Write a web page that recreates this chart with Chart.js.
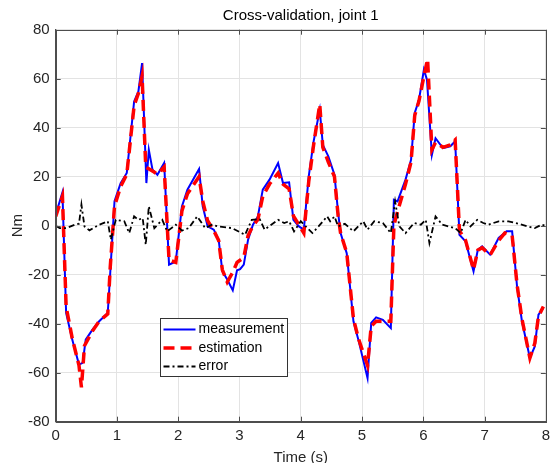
<!DOCTYPE html>
<html>
<head>
<meta charset="utf-8">
<script src="https://cdn.jsdelivr.net/npm/chart.js@4"></script>
<style>
  body { margin: 0; background: #fff; }
  #wrap { width: 555px; height: 463px; }
</style>
</head>
<body>
<div id="wrap"><canvas id="jointChart"></canvas></div>
<script>
// measurement (blue)
const measTime = [0, 0.11, 0.17, 0.27, 0.38, 0.44, 0.49, 0.6, 0.71, 0.85, 0.89, 0.96, 1.06, 1.16, 1.28, 1.35, 1.41, 1.48, 1.52, 1.58, 1.66, 1.77, 1.85, 1.96, 2.06, 2.15, 2.34, 2.40, 2.48, 2.58, 2.66, 2.72, 2.80, 2.89, 2.96, 3.01, 3.07, 3.14, 3.22, 3.30, 3.38, 3.49, 3.63, 3.71, 3.81, 3.88, 3.97, 4.05, 4.13, 4.21, 4.31, 4.36, 4.45, 4.55, 4.61, 4.65, 4.75, 4.86, 4.94, 5.09, 5.15, 5.23, 5.34, 5.47, 5.52, 5.58, 5.71, 5.80, 5.86, 5.93, 6.01, 6.06, 6.14, 6.20, 6.32, 6.44, 6.52, 6.59, 6.69, 6.82, 6.89, 6.96, 7.09, 7.23, 7.36, 7.45, 7.53, 7.61, 7.74, 7.82, 7.88, 7.96];
const measurement = [4.5, 13.6, -35.6, -46.5, -56.7, -56, -46.5, -42.4, -39, -35.6, -19.3, 10, 17.4, 21.5, 50.7, 54.8, 66.4, 17.4, 31, 22.9, 20.8, 25.6, -15.9, -14.6, 7.9, 14.7, 23.1, 7.9, -0.3, -1.6, -5.7, -18.6, -22, -26.4, -18.2, -17.7, -15.9, -5.7, 0.4, 3.8, 14.7, 18.8, 25.6, 17.4, 17.7, 2.4, -0.3, -1.6, 20.1, 34.4, 47.3, 33, 28.3, 20.8, 5.2, -3, -11.2, -39, -46.5, -62.2, -39.7, -37.4, -38.4, -41.8, 10.6, 9.9, 18.8, 26.9, 46, 51.4, 63.7, 59.6, 28.9, 35.7, 31.7, 32.4, 34.4, -3.7, -6.4, -18.6, -9.8, -8.4, -11.8, -5, -2.3, -2.3, -24.8, -39, -54, -49.3, -36.3, -33.6];

// estimation (red dashed)
const estTime = [0, 0.11, 0.17, 0.27, 0.38, 0.42, 0.47, 0.6, 0.71, 0.85, 0.89, 0.96, 1.06, 1.16, 1.28, 1.35, 1.41, 1.47, 1.6, 1.66, 1.77, 1.85, 1.96, 2.06, 2.15, 2.34, 2.40, 2.48, 2.58, 2.66, 2.72, 2.80, 2.89, 2.96, 3.07, 3.14, 3.22, 3.30, 3.38, 3.49, 3.63, 3.71, 3.81, 3.88, 4.05, 4.13, 4.21, 4.31, 4.36, 4.45, 4.55, 4.61, 4.65, 4.75, 4.86, 4.94, 5.09, 5.15, 5.23, 5.34, 5.47, 5.52, 5.56, 5.71, 5.80, 5.86, 5.93, 6.01, 6.07, 6.14, 6.20, 6.32, 6.44, 6.52, 6.59, 6.69, 6.82, 6.89, 6.96, 7.09, 7.23, 7.33, 7.45, 7.53, 7.61, 7.74, 7.82, 7.88, 7.96];
const estimation = [3.8, 12, -33, -46, -57, -66, -49, -43, -39, -36, -17, 8, 16, 21, 49, 54, 61, 24, 22, 21, 24, -14, -15, 6, 13, 20, 10, 2, -2, -6, -18, -23, -19, -15, -13, -4, 0, 2.5, 12, 17, 21.5, 17, 15, 4, -3, 18, 33, 49.5, 32, 26, 20, 4, -3, -11, -38, -46, -57, -41, -39, -39, -39, 0, 4, 17, 26, 45, 51, 61, 68, 31, 34, 32, 33, 35, -2, -6, -18, -10, -9, -12, -6, -3, -4, -24, -38, -54, -48, -37, -33];

// error (black dash-dot)
const errTime = [0, 0.065, 0.17, 0.31, 0.38, 0.42, 0.47, 0.55, 0.71, 0.85, 0.9, 0.98, 1.12, 1.2, 1.28, 1.35, 1.42, 1.47, 1.52, 1.61, 1.74, 1.82, 1.96, 2.06, 2.17, 2.31, 2.44, 2.55, 2.66, 2.88, 3.09, 3.2, 3.33, 3.41, 3.63, 3.73, 3.81, 3.89, 4.0, 4.19, 4.29, 4.43, 4.48, 4.55, 4.61, 4.72, 4.86, 5.02, 5.09, 5.2, 5.34, 5.47, 5.54, 5.61, 5.71, 5.85, 5.96, 6.04, 6.1, 6.2, 6.31, 6.52, 6.61, 6.69, 6.77, 6.88, 6.98, 7.06, 7.23, 7.39, 7.55, 7.71, 7.82, 7.93, 7.98];
const errorVals = [0, -1, -1, 0.4, 0.8, 8.6, -0.3, -1.9, 0.4, 1.8, -5.7, 2.4, 1.8, -3, 3.8, 2.4, 3.1, -7.8, 7.9, -1, 2.4, -2.3, 0.4, -2, -1, 3.8, -1, 0.4, -0.3, -1, -3.7, 2.4, 2.7, -1.6, 2.4, 1.1, 1.8, -2.3, 1.8, -3, -0.3, 3.8, 1.8, 3.8, -0.3, 0.8, -2.3, 1.8, -1.6, 1.8, 1.1, -3, 9.9, -0.3, -3, 1.1, 0.4, 2.4, -7.1, 3.8, 0.4, -1, -3, 2.4, -0.3, 2.4, 1.1, 0.4, 1.8, 1.8, 0.8, -0.3, -1, 0.4, 0.1];

const seriesNames = ['measurement', 'estimation', 'error'];
const xTicks = [0, 1, 2, 3, 4, 5, 6, 7, 8];
const yTicks = [-80, -60, -40, -20, 0, 20, 40, 60, 80];

const FONT = "'Liberation Sans', Arial, Helvetica, sans-serif";

function pts(xs, ys) {
  return xs.map((x, i) => ({ x: x, y: ys[i] }));
}

const styles = [
  { color: '#0000ff', width: 2, dash: [] },
  { color: '#ff0000', width: 3.5, dash: [11, 6] },
  { color: '#000000', width: 1.8, dash: [6, 3, 2, 3] }
];

// box round the plot + inward tick marks, like matlab
const boxPlugin = {
  id: 'box',
  afterDraw(chart) {
    const { ctx, chartArea: a, scales } = chart;
    ctx.save();
    ctx.strokeStyle = '#4d4d4d';
    ctx.lineWidth = 1;
    ctx.beginPath();
    xTicks.forEach(v => {
      const px = Math.round(scales.x.getPixelForValue(v)) + 0.5;
      ctx.moveTo(px, a.bottom); ctx.lineTo(px, a.bottom - 5);
      ctx.moveTo(px, a.top); ctx.lineTo(px, a.top + 5);
    });
    yTicks.forEach(v => {
      const py = Math.round(scales.y.getPixelForValue(v)) + 0.5;
      ctx.moveTo(a.left, py); ctx.lineTo(a.left + 5, py);
      ctx.moveTo(a.right, py); ctx.lineTo(a.right - 5, py);
    });
    ctx.stroke();
    ctx.strokeRect(Math.round(a.left) + 0.5, Math.round(a.top) + 0.5,
      Math.round(a.right - a.left), Math.round(a.bottom - a.top));
    ctx.restore();
  }
};

// legend box inside the axes
const legendPlugin = {
  id: 'innerLegend',
  afterDraw(chart) {
    const { ctx, chartArea: a } = chart;
    const left = Math.round(a.left + 104) + 0.5;
    const top = Math.round(a.top + 288) + 0.5;
    const w = 127, h = 58;
    ctx.save();
    ctx.fillStyle = '#fff';
    ctx.fillRect(left, top, w, h);
    ctx.strokeStyle = '#333';
    ctx.lineWidth = 1;
    ctx.strokeRect(left, top, w, h);
    ctx.font = '14px ' + FONT;
    ctx.textBaseline = 'middle';
    seriesNames.forEach((name, i) => {
      const y = top + 11 + i * 18.5;
      const s = styles[i];
      ctx.strokeStyle = s.color;
      ctx.lineWidth = s.width;
      ctx.setLineDash(s.dash);
      ctx.beginPath();
      ctx.moveTo(left + 3, y);
      ctx.lineTo(left + 35, y);
      ctx.stroke();
      ctx.setLineDash([]);
      ctx.fillStyle = '#000';
      ctx.fillText(name, left + 38, y);
    });
    ctx.restore();
  }
};

const ctx = document.getElementById('jointChart');

new Chart(ctx, {
  type: 'line',
  data: {
    datasets: [
      { label: seriesNames[0], data: pts(measTime, measurement), order: 3 },
      { label: seriesNames[1], data: pts(estTime, estimation), order: 2 },
      { label: seriesNames[2], data: pts(errTime, errorVals), order: 1 }
    ].map((d, i) => Object.assign(d, {
      borderColor: styles[i].color,
      borderWidth: styles[i].width,
      borderDash: styles[i].dash,
      pointRadius: 0,
      tension: 0,
      fill: false
    }))
  },
  options: {
    responsive: true,
    maintainAspectRatio: false,
    animation: false,
    layout: { padding: { left: 0, right: 4, top: 0, bottom: 0 } },
    plugins: {
      legend: { display: false },
      tooltip: { enabled: false },
      title: {
        display: true,
        fullSize: false,
        text: 'Cross-validation, joint 1',
        color: '#000',
        font: { family: FONT, size: 15, weight: 'normal' },
        padding: { top: 6.5, bottom: 5.2 }
      }
    },
    scales: {
      x: {
        type: 'linear',
        min: 0,
        max: 8,
        afterFit: s => { s.height = 41.3; },
        afterBuildTicks: s => { s.ticks = xTicks.map(v => ({ value: v })); },
        ticks: { color: '#262626', font: { family: FONT, size: 15 }, padding: 5, maxRotation: 0 },
        grid: { color: '#e3e3e3', drawTicks: false },
        border: { color: '#4d4d4d' },
        title: {
          display: true, text: 'Time (s)', color: '#262626',
          font: { family: FONT, size: 15 }, padding: { top: 0, bottom: -4 }
        }
      },
      y: {
        min: -80,
        max: 80,
        afterFit: s => { s.width = 55.7; },
        afterBuildTicks: s => { s.ticks = yTicks.map(v => ({ value: v })); },
        ticks: { color: '#262626', font: { family: FONT, size: 15 }, padding: 6 },
        grid: { color: '#e3e3e3', drawTicks: false },
        border: { color: '#4d4d4d' },
        title: {
          display: true, text: 'Nm', color: '#262626',
          font: { family: FONT, size: 15 }, padding: { top: 9, bottom: 0 }
        }
      }
    }
  },
  plugins: [boxPlugin, legendPlugin]
});
</script>
</body>
</html>
